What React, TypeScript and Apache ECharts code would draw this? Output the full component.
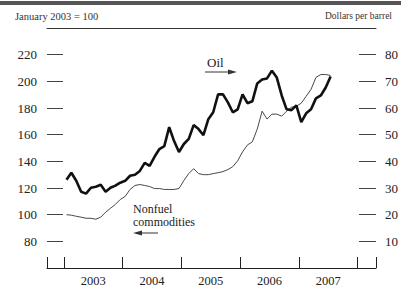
import React, { useEffect, useRef } from "react";
import * as echarts from "echarts";

// Monthly data, Jan 2003 .. Jul 2007
const startYear = 2003;
const oilPrice = [
  33.1, 35.7, 32.7, 28.6, 27.9, 30.1, 30.5, 31.2, 28.6, 30.1, 30.9, 32.0,
  32.7, 34.6, 35.0, 36.4, 39.4, 38.3, 41.7, 44.6, 45.7, 52.8, 47.6, 43.5,
  46.5, 48.4, 53.6, 52.1, 49.8, 55.8, 58.4, 65.1, 65.1, 62.1, 58.4, 59.5,
  65.1, 61.8, 62.5, 69.2, 70.7, 71.1, 74.0, 71.4, 64.7, 59.5, 59.2, 61.0,
  54.7, 58.0, 59.5, 63.6, 64.7, 67.7, 71.8,
];
const nonfuelIndex = [
  100, 99.6, 98.8, 98.1, 97.3, 97.3, 96.6, 98.1, 101.8, 104.8, 107.7, 111.4,
  113.7, 118.9, 121.9, 122.6, 121.9, 121.1, 119.6, 119.6, 118.9, 118.9, 118.9, 119.6,
  125.6, 130.8, 134.5, 130.8, 130.0, 130.0, 130.8, 131.5, 132.3, 133.8, 136.0, 140.4,
  147.1, 152.3, 154.6, 164.2, 177.6, 171.7, 175.4, 175.4, 173.9, 177.6, 180.6, 181.3,
  183.6, 188.8, 194.0, 202.9, 205.1, 205.1, 204.4,
];
const yearTicks = [2003, 2004, 2005, 2006, 2007, 2008];
const yearLabels = ["2003", "2004", "2005", "2006", "2007"];
const leftTicks = [80, 100, 120, 140, 160, 180, 200, 220];
const rightTicks = [10, 20, 30, 40, 50, 60, 70, 80];

const X_MIN = 2002.71;
const X_MAX = 2008.315;
const FONT = "'Liberation Serif', 'DejaVu Serif', serif";

export default function App() {
  const ref = useRef<HTMLDivElement>(null);
  useEffect(() => {
    document.body.style.margin = "0";
    if (!ref.current) return;
    const chart = echarts.init(ref.current, null, { renderer: "svg" });
    const toX = (i: number) => startYear + (i + 0.5) / 12;
    const oilData = oilPrice.map((v, i) => [toX(i), v]);
    const nfData = nonfuelIndex.map((v, i) => [toX(i), v]);
    const axisColor = "#444";
    chart.setOption({
      animation: false,
      backgroundColor: "#fff",
      grid: { left: 47, right: 25, top: 28, bottom: 17, containLabel: false },
      xAxis: [
        {
          type: "value",
          min: X_MIN,
          max: X_MAX,
          position: "bottom",
          axisLine: { show: true, lineStyle: { color: "#222", width: 1 } },
          axisTick: {
            show: true,
            inside: true,
            length: 11,
            customValues: [X_MIN, ...yearTicks, X_MAX],
            lineStyle: { color: "#222", width: 1 },
          },
          axisLabel: {
            show: true,
            customValues: yearLabels.map((y) => Number(y) + 0.5),
            formatter: (v: number) => String(Math.floor(v)),
            margin: 6,
            color: "#222",
            fontFamily: FONT,
            fontSize: 12.5,
          },
          splitLine: { show: false },
        },
        {
          type: "value",
          min: X_MIN,
          max: X_MAX,
          position: "top",
          axisLine: { show: true, lineStyle: { color: "#333", width: 1 } },
          axisTick: { show: false },
          axisLabel: { show: false },
          splitLine: { show: false },
        },
      ],
      yAxis: [
        {
          type: "value",
          min: 60,
          max: 240,
          interval: 20,
          position: "left",
          axisLine: { show: false },
          axisTick: {
            show: true,
            inside: true,
            length: 16,
            customValues: leftTicks,
            lineStyle: { color: axisColor, width: 1 },
          },
          axisLabel: {
            customValues: leftTicks,
            margin: 10,
            color: "#222",
            fontFamily: FONT,
            fontSize: 13,
          },
          splitLine: { show: false },
        },
        {
          type: "value",
          min: 0,
          max: 90,
          interval: 10,
          position: "right",
          axisLine: { show: false },
          axisTick: {
            show: true,
            inside: true,
            length: 17,
            customValues: rightTicks,
            lineStyle: { color: axisColor, width: 1 },
          },
          axisLabel: {
            customValues: rightTicks,
            margin: 9,
            color: "#222",
            fontFamily: FONT,
            fontSize: 13,
          },
          splitLine: { show: false },
        },
      ],
      series: [
        {
          name: "Nonfuel commodities",
          type: "line",
          xAxisIndex: 0,
          yAxisIndex: 0,
          data: nfData,
          showSymbol: false,
          lineStyle: { color: "#333", width: 0.9 },
        },
        {
          name: "Oil",
          type: "line",
          xAxisIndex: 0,
          yAxisIndex: 1,
          data: oilData,
          showSymbol: false,
          lineStyle: { color: "#111", width: 2.6 },
        },
      ],
      graphic: [
        { type: "rect", shape: { x: 0, y: 1, width: 401, height: 4 }, style: { fill: "#555" } },
        {
          type: "text",
          x: 15,
          y: 16,
          style: { text: "January 2003 = 100", fontFamily: FONT, fontSize: 10.5, fill: "#333", textVerticalAlign: "middle" },
        },
        {
          type: "text",
          x: 392,
          y: 16,
          style: { text: "Dollars per barrel", fontFamily: FONT, fontSize: 9.5, fill: "#333", textAlign: "right", textVerticalAlign: "middle" },
        },
        {
          type: "text",
          x: 207,
          y: 62,
          style: { text: "Oil", fontFamily: FONT, fontSize: 13, fill: "#222", textVerticalAlign: "middle" },
        },
        { type: "line", shape: { x1: 205, y1: 72, x2: 233, y2: 72 }, style: { stroke: "#333", lineWidth: 1 } },
        { type: "polygon", shape: { points: [[228, 69.5], [237, 72], [228, 74.5]] }, style: { fill: "#333" } },
        {
          type: "text",
          x: 133,
          y: 209,
          style: { text: "Nonfuel", fontFamily: FONT, fontSize: 12, fill: "#222", textVerticalAlign: "middle" },
        },
        {
          type: "text",
          x: 133,
          y: 221.8,
          style: { text: "commodities", fontFamily: FONT, fontSize: 12, fill: "#222", textVerticalAlign: "middle" },
        },
        { type: "line", shape: { x1: 136, y1: 233, x2: 158, y2: 233 }, style: { stroke: "#333", lineWidth: 1 } },
        { type: "polygon", shape: { points: [[142, 230.5], [133, 233], [142, 235.5]] }, style: { fill: "#333" } },
      ],
    });
    return () => chart.dispose();
  }, []);
  return (
    <div
      ref={ref}
      style={{ position: "fixed", left: 0, top: 0, width: 401, height: 287, background: "#fff" }}
    />
  );
}
